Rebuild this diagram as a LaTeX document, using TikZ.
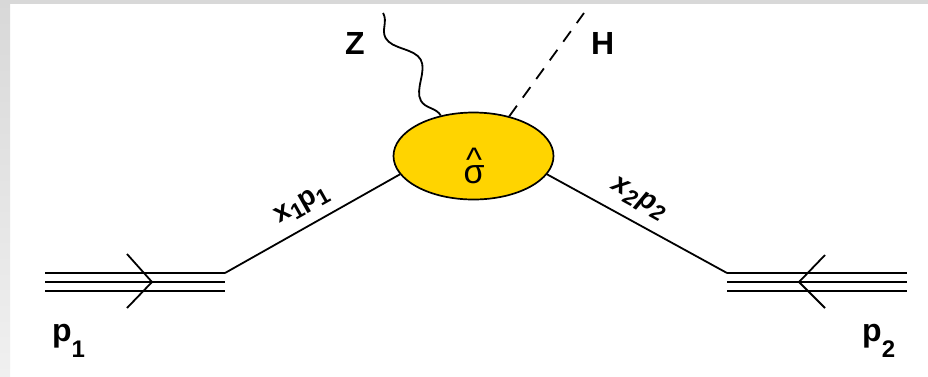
\documentclass[tikz,border=0pt]{standalone}
\usepackage{fontspec}
\setmainfont{Liberation Sans}
\usetikzlibrary{shapes.geometric,decorations.pathmorphing}
\definecolor{blobgold}{RGB}{255,212,0}
\definecolor{framegray}{RGB}{216,216,216}
\definecolor{framelight}{RGB}{240,240,240}
\begin{document}
\begin{tikzpicture}[x=1pt,y=-1pt,
  proton/.style={line width=2.4pt},
  parton/.style={line width=1.8pt},
  biglbl/.style={font=\fontsize{32}{34}\selectfont\bfseries, inner sep=0},
  momlbl/.style={font=\fontsize{28}{30}\selectfont\bfseries, inner sep=0},
  blobstyle/.style={ellipse, draw, line width=1.7pt, fill=blobgold,
    minimum width=160pt, minimum height=87pt, inner sep=0}]
\useasboundingbox (0,0) rectangle (928,376);
\fill[white] (0,0) rectangle (928,376);
\shade[top color=framegray, bottom color=framelight] (0,0) rectangle (10,376);
\fill[framegray] (0,0) rectangle (928,4);

% blob
\node[blobstyle] (blob) at (473.5,156) {};
\node[anchor=base, inner sep=0, font=\fontsize{34}{34}\selectfont] (sig) at (474,183)
  {\ooalign{σ\cr\hidewidth\raisebox{12pt}{\textasciicircum}\hidewidth\cr}};

% left proton
\coordinate (l1a) at (45,273); \coordinate (q1) at (225,273);
\coordinate (l2a) at (45,282); \coordinate (l2b) at (225,282);
\coordinate (l3a) at (45,291); \coordinate (l3b) at (225,291);
\draw[proton] (l1a) -- (q1);
\draw[proton] (l2a) -- (l2b);
\draw[proton] (l3a) -- (l3b);
\coordinate (c1a) at (127,254); \coordinate (c1t) at (152,282); \coordinate (c1b) at (127,308);
\draw[parton] (c1a) -- (c1t) -- (c1b);

% right proton
\coordinate (q2) at (727,273); \coordinate (r1b) at (907,273);
\coordinate (r2a) at (727,282); \coordinate (r2b) at (907,282);
\coordinate (r3a) at (727,291); \coordinate (r3b) at (907,291);
\draw[proton] (q2) -- (r1b);
\draw[proton] (r2a) -- (r2b);
\draw[proton] (r3a) -- (r3b);
\coordinate (c2a) at (825,255); \coordinate (c2t) at (799,282); \coordinate (c2b) at (825,308);
\draw[parton] (c2a) -- (c2t) -- (c2b);

% partons
\draw[parton] (q1) -- node[sloped, above=10pt, pos=0.5, momlbl] (x1)
  {x\raisebox{-6pt}{\fontsize{22}{22}\selectfont 1}p\raisebox{-6pt}{\fontsize{22}{22}\selectfont 1}} (blob.194.5);
\draw[parton] (blob.346) -- node[sloped, above=11pt, pos=0.45, momlbl] (x2)
  {\itshape x\raisebox{-6pt}{\fontsize{22}{22}\selectfont 2}\kern2pt p\raisebox{-6pt}{\fontsize{22}{22}\selectfont 2}} (q2);

% Z and H
\coordinate (zt) at (383,13);
\coordinate (ht) at (584,13);
\draw[parton, decorate, decoration={snake, segment length=72pt, amplitude=10pt}] (blob.129.5) -- (zt);
\draw[parton, dash pattern=on 13pt off 10pt] (blob.48.2) -- (ht);

% labels
\node[biglbl, anchor=base west] (zl) at (345,54) {Z};
\node[biglbl, anchor=base west] (hl) at (591,54) {H};
\node[biglbl, anchor=base west] (p1) at (52,341) {p\raisebox{-16pt}{\fontsize{24}{24}\selectfont 1}};
\node[biglbl, anchor=base west] (p2) at (862,341) {p\raisebox{-16pt}{\fontsize{24}{24}\selectfont 2}};
\end{tikzpicture}
\end{document}
